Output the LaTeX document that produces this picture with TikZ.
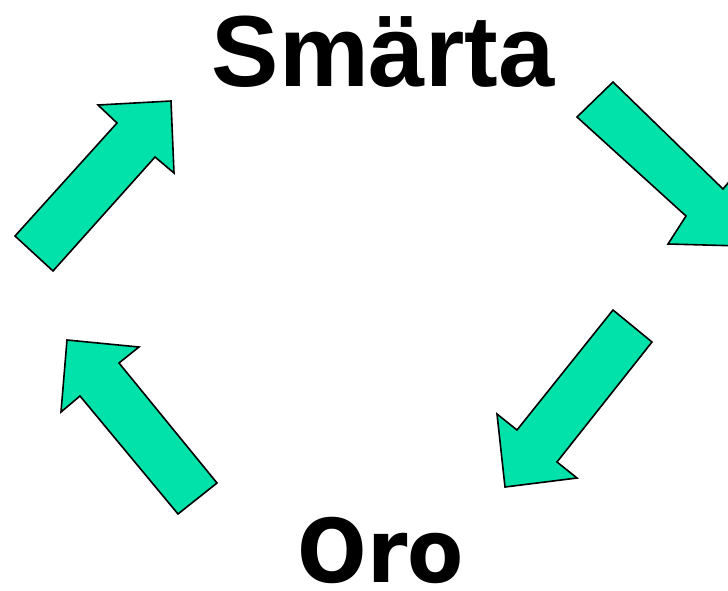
\documentclass[tikz,border=0pt]{standalone}
\usepackage{fontspec}
\setmainfont{Liberation Sans}
\newfontfamily\orofont{DejaVu Sans}
\usetikzlibrary{positioning}
\definecolor{mint}{RGB}{0,226,170}

\begin{document}
\begin{tikzpicture}[x=1pt,y=-1pt,
    blockarrow/.style={fill=mint,draw=black,line width=1.6pt,line join=miter},
    word/.style={anchor=base,inner sep=0pt,font=\bfseries}]
    % Canvas
    \useasboundingbox (0,0) rectangle (728,590);
    \clip (0,0) rectangle (728,590);

    % The two words
    \node[word,font=\fontsize{101}{101}\selectfont\bfseries] (smaerta) at (383,86) {Smärta};
    \node[word,font=\fontsize{88}{88}\selectfont\orofont\bfseries,xscale=0.93] (oro) at (381,582) {Oro};

    % Block arrows, clockwise
    \draw[blockarrow] (15,236) -- (117,123) -- (98,105) -- (171,101) -- (174,173) -- (155,157) -- (53,271) -- cycle;
    \draw[blockarrow] (613,82) -- (723,189) -- (744,164) -- (742,246) -- (668,244) -- (686,216) -- (577,117) -- cycle;
    \draw[blockarrow] (652,342) -- (557,462) -- (577,478) -- (505,487) -- (497,414) -- (517,430) -- (613,310) -- cycle;
    \draw[blockarrow] (178,514) -- (80,396) -- (61,412) -- (67,340) -- (139,347) -- (119,363) -- (217,483) -- cycle;
\end{tikzpicture}
\end{document}
